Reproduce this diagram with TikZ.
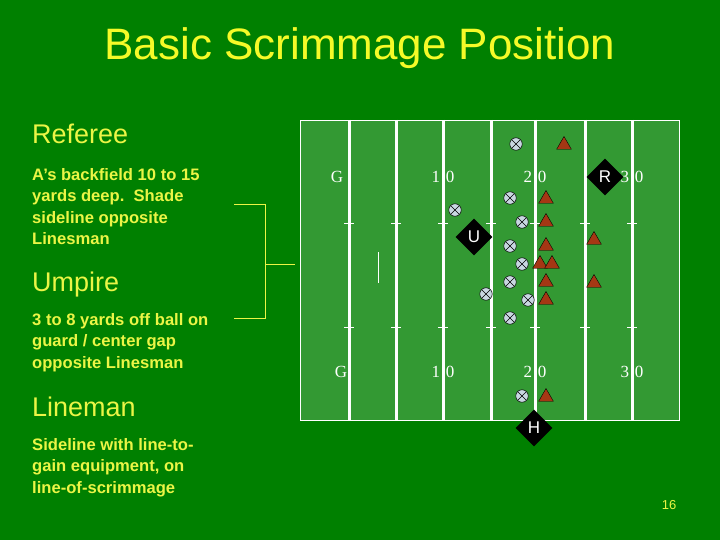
\documentclass[tikz,border=0pt]{standalone}
\usepackage{fontspec}
\setmainfont{Liberation Sans}
\newfontfamily\serifnum{Liberation Serif}
\usetikzlibrary{shapes.geometric}
\definecolor{bg}{RGB}{0,128,0}
\definecolor{fieldc}{RGB}{51,153,51}
\definecolor{txt}{RGB}{235,245,70}
\definecolor{ttl}{RGB}{245,250,40}
\definecolor{offc}{RGB}{200,215,225}
\definecolor{defc}{RGB}{165,55,20}
\tikzset{
 hd/.style={anchor=base west,text=txt,font=\fontsize{27}{30}\selectfont,inner sep=0},
 bd/.style={anchor=north west,text=txt,font=\bfseries\fontsize{16.6}{21.5}\selectfont,inner sep=0,align=left},
 yl/.style={white,line width=3pt},
 tk/.style={white,line width=0.8pt},
 num/.style={text=white,font=\serifnum\fontsize{17}{17}\selectfont,inner sep=0},
 off/.style={circle,draw=black,line width=0.5pt,fill=offc,minimum size=12.5pt,inner sep=0,path picture={\draw[black,line width=0.5pt] ([shift={(2.4pt,-2.4pt)}]path picture bounding box.north west) -- ([shift={(-2.4pt,2.4pt)}]path picture bounding box.south east);\draw[black,line width=0.5pt] ([shift={(2.4pt,2.4pt)}]path picture bounding box.south west) -- ([shift={(-2.4pt,-2.4pt)}]path picture bounding box.north east);}},
 def/.style={regular polygon,regular polygon sides=3,draw=black,line width=0.4pt,fill=defc,minimum size=17pt,inner sep=0},
 ref/.style={diamond,fill=black,text=white,font=\fontsize{17}{17}\selectfont,minimum size=37pt,inner sep=0},
 br/.style={txt,line width=0.8pt}
}
\begin{document}
\begin{tikzpicture}[x=1pt,y=-1pt]
\fill[bg] (0,0) rectangle (720,540);
\useasboundingbox (0,0) rectangle (720,540);
\node[text=ttl,font=\fontsize{44}{44}\selectfont,anchor=base,inner sep=0] (title) at (360,60) {Basic Scrimmage Position};
\node[hd] (h1) at (32,144) {Referee};
\node[bd] (b1) at (32,168) {A’s backfield 10 to 15\\yards deep.\ \ Shade\\sideline opposite\\Linesman};
\node[hd] (h2) at (32,291) {Umpire};
\node[bd] (b2) at (32,313) {3 to 8 yards off ball on\\guard / center gap\\opposite Linesman};
\node[hd] (h3) at (32,416) {Lineman};
\node[bd] (b3) at (32,438) {Sideline with line-to-\\gain equipment, on\\line-of-scrimmage};
\node[text=txt,font=\fontsize{13}{13}\selectfont,anchor=base] (pg) at (669,509) {16};
\coordinate (ba) at (234,204); \coordinate (bb) at (265,204);
\coordinate (bc) at (265,318); \coordinate (bd0) at (234,318);
\coordinate (bm) at (265,264); \coordinate (be) at (295,264);
\draw[br] (ba) -- (bb) -- (bc) -- (bd0);
\draw[br] (bm) -- (be);
\fill[fieldc] (300,120) rectangle (679,420);
\draw[white,line width=0.8pt] (300,120) rectangle (679,420);
\foreach \x in {349,396,443,491,535,585,632}{
 \draw[yl] (\x,120) -- (\x,420);
 \draw[tk] (\x-5,223) -- (\x+5,223);
 \draw[tk] (\x-5,327) -- (\x+5,327);
}
\draw[white,line width=0.8pt] (378,252) -- (378,283);
\fill[bg] (300,421) rectangle (720,440);
\node[num] (g1) at (337,177) {G};
\node[num] (n1) at (443,177) {1\,\,0};
\node[num] (n2) at (535,177) {2\,\,0};
\node[num] (n3) at (632,177) {3\,\,0};
\node[num] (g2) at (341,372) {G};
\node[num] (m1) at (443,372) {1\,\,0};
\node[num] (m2) at (535,372) {2\,\,0};
\node[num] (m3) at (632,372) {3\,\,0};
\foreach \x in {349,396,443,491,535,585,632}{\draw[yl] (\x,168) -- (\x,186); \draw[yl] (\x,363) -- (\x,381);}
\foreach \p [count=\i] in {(516,144),(510,198),(455,210),(522,222),(510,246),(522,264),(510,282),(486,294),(528,300),(510,318),(522,396)}
 \node[off] (o\i) at \p {};
\foreach \p [count=\i] in {(564,145),(546,199),(546,222),(546,246),(540,264),(552,264),(546,282),(594,240),(594,283),(546,300),(546,397)}
 \node[def] (d\i) at \p {};
\node[ref] (R) at (605,177) {R};
\node[ref] (U) at (474,237) {U};
\node[ref] (H) at (534,428) {H};
\end{tikzpicture}
\end{document}
